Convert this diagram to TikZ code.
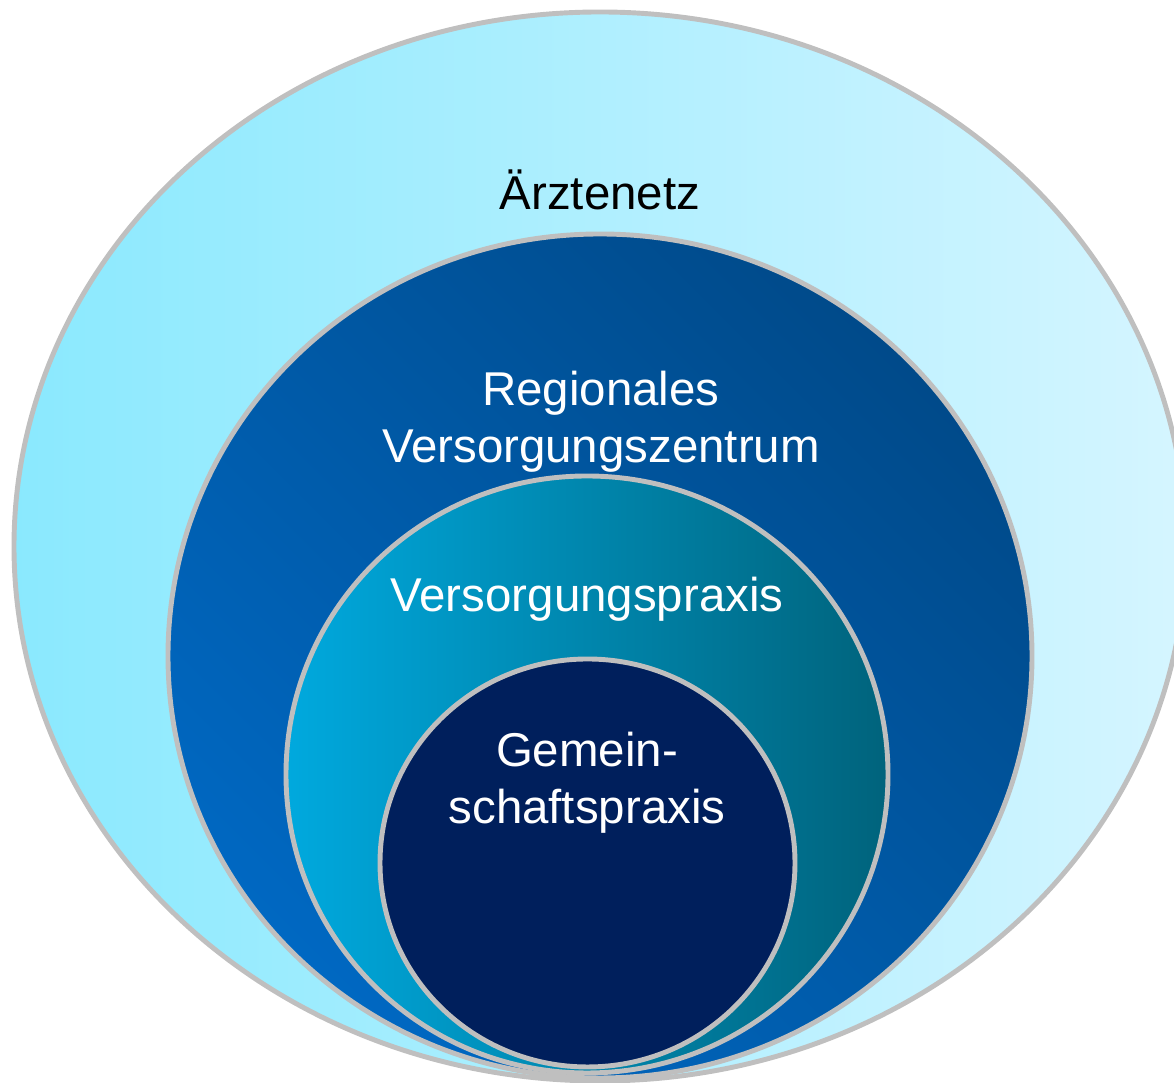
\documentclass[tikz,border=0pt]{standalone}
\usepackage{fontspec}
\setmainfont{Liberation Sans}
\usepackage{xcolor}
\usepackage{tikz}
\usetikzlibrary{shapes.geometric, positioning}

\definecolor{netzleft}{HTML}{8AE9FE}
\definecolor{netzright}{HTML}{D5F5FF}
\definecolor{rvzlight}{HTML}{0068C2}
\definecolor{rvzdark}{HTML}{004A8A}
\definecolor{vpleft}{HTML}{00A9DE}
\definecolor{vpright}{HTML}{00637C}
\definecolor{gpnavy}{HTML}{001F5C}
\definecolor{ringgray}{HTML}{BFBFBF}

\begin{document}
\begin{tikzpicture}[
        ring/.style={draw=ringgray, line width=1.4pt, ellipse, inner sep=0pt},
        label/.style={align=center, font=\fontsize{13.5}{16.2}\selectfont}
    ]
        \useasboundingbox (0,0) rectangle (11.74,10.83);
        \clip (0,0) rectangle (11.74,10.83);

        % Rings, outside to inside
        \node[ring, left color=netzleft, right color=netzright,
              minimum width=11.72cm, minimum height=10.69cm] (netz) at (6.00, 5.365) {};
        \node[ring, top color=rvzdark, bottom color=rvzlight, shading angle=-45,
              minimum width=8.64cm, minimum height=8.44cm] (rvz) at (6.00, 4.27) {};
        \node[ring, left color=vpleft, right color=vpright,
              minimum width=6.02cm, minimum height=5.97cm] (vp) at (5.87, 3.085) {};
        \node[ring, fill=gpnavy,
              minimum width=4.15cm, minimum height=4.08cm] (gp) at (5.875, 2.20) {};

        % Labels
        \node[label, text=black] (netz_text) at (6.00, 8.93) {Ärztenetz};
        \node[label, text=white] (rvz_text) at (6.01, 6.61) {Regionales\\Versorgungszentrum};
        \node[label, text=white] (vp_text) at (5.87, 4.84) {Versorgungspraxis};
        \node[label, text=white] (gp_text) at (5.87, 3.00) {Gemein-\\schaftspraxis};
    \end{tikzpicture}
\end{document}
